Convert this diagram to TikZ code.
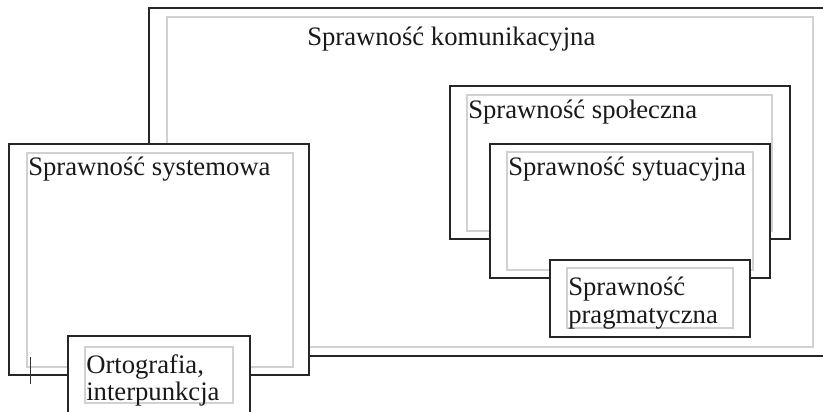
\documentclass[tikz,border=0pt]{standalone}
\usepackage{fontspec}
\setmainfont{Liberation Serif}
\begin{document}
\begin{tikzpicture}[x=0.75pt, y=-0.75pt,
	frame/.style={draw=black!85, line width=1.5pt, fill=white},
	inframe/.style={draw=black!18, line width=0.8pt},
	lbl/.style={inner sep=0pt, font=\fontsize{20}{20.5}\selectfont, text=black!90, align=left}]
	\useasboundingbox (0,0) rectangle (823,411);
	\clip (0,0) rectangle (823,411);
	% outer box
	\draw[frame] (149,8) rectangle (834,356);
	\draw[inframe] (167,17) rectangle (813,347);
	\node[lbl, anchor=base west] (kom) at (307,45) {Sprawność komunikacyjna};
	% right group
	\draw[frame] (450,86) rectangle (790,239);
	\draw[inframe] (467,95) rectangle (772,231);
	\node[lbl, anchor=base west] (spo) at (468,118) {Sprawność społeczna};
	\draw[frame] (490,144) rectangle (770,278);
	\draw[inframe] (507,152) rectangle (753,270);
	\node[lbl, anchor=base west] (syt) at (508,175) {Sprawność sytuacyjna};
	\draw[frame] (550,260) rectangle (750,337);
	\draw[inframe] (567,268) rectangle (733,328);
	\node[lbl, anchor=north west] (pra) at (568,277) {Sprawność\\pragmatyczna};
	% left group
	\draw[frame] (9,144) rectangle (309,375);
	\draw[inframe] (27,153) rectangle (293,367);
	\node[lbl, anchor=base west] (sys) at (28,175) {Sprawność systemowa};
	\draw[frame] (68,336) rectangle (250,425);
	\draw[inframe] (85,347) rectangle (233,403);
	\node[lbl, anchor=north west] (ort) at (86,354) {Ortografia,\\interpunkcja};
	\draw[black!80, line width=0.75pt] (30,357) -- (30,384);
\end{tikzpicture}
\end{document}
